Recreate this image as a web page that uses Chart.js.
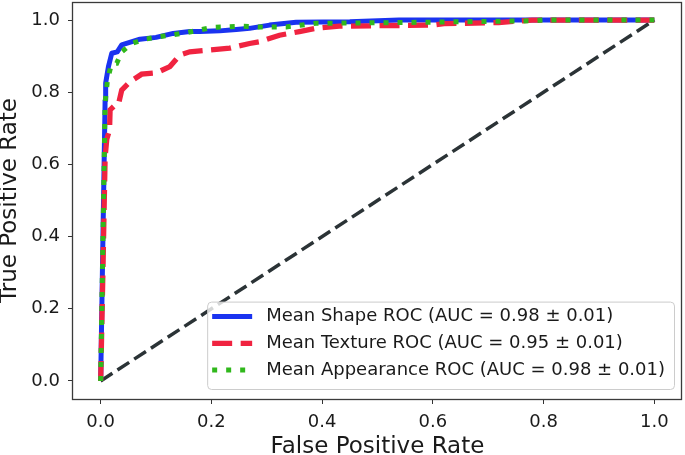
<!DOCTYPE html>
<html>
<head>
<meta charset="utf-8">
<script src="https://cdn.jsdelivr.net/npm/chart.js@4"></script>
<style>
    body { margin: 0; background: #fff; }
    #wrap { width: 685px; height: 455px; }
</style>
</head>
<body>
<div id="wrap"><canvas id="roc" width="685" height="455"></canvas></div>
<script>
/* ==================
    DATOS
================== */

const xTicks = [0.0, 0.2, 0.4, 0.6, 0.8, 1.0];
const yTicks = [0.0, 0.2, 0.4, 0.6, 0.8, 1.0];

const shapeFpr = [0, 0.008, 0.009, 0.014, 0.02, 0.03, 0.038, 0.071, 0.1, 0.131, 0.161, 0.179, 0.215, 0.245, 0.269, 0.305, 0.353, 0.45, 0.539, 1.0];
const shapeTpr = [0, 0.778, 0.825, 0.871, 0.908, 0.912, 0.931, 0.947, 0.952, 0.963, 0.968, 0.968, 0.970, 0.974, 0.977, 0.986, 0.994, 0.995, 1.0, 1.0];

const textureFpr = [0, 0.004, 0.008, 0.011, 0.016, 0.017, 0.026, 0.032, 0.038, 0.053, 0.074, 0.101, 0.125, 0.143, 0.161, 0.233, 0.269, 0.287, 0.323, 0.359, 0.389, 0.431, 0.599, 0.62, 0.719, 0.779, 1.0];
const textureTpr = [0, 0.30, 0.62, 0.67, 0.695, 0.751, 0.764, 0.766, 0.806, 0.829, 0.850, 0.854, 0.871, 0.903, 0.912, 0.922, 0.935, 0.940, 0.958, 0.968, 0.977, 0.983, 0.986, 0.990, 0.993, 1.0, 1.0];

const appearanceFpr = [0, 0.008, 0.012, 0.018, 0.022, 0.029, 0.038, 0.056, 0.08, 0.107, 0.155, 0.203, 0.256, 0.284, 0.335, 0.389, 0.539, 0.779, 0.8, 1.0];
const appearanceTpr = [0, 0.77, 0.83, 0.87, 0.88, 0.88, 0.912, 0.935, 0.947, 0.954, 0.965, 0.98, 0.983, 0.981, 0.981, 0.991, 0.993, 0.998, 1.0, 1.0];

const chanceFpr = [0, 1];
const chanceTpr = [0, 1];

const labels = [
    'Mean Shape ROC (AUC = 0.98 ± 0.01)',
    'Mean Texture ROC (AUC = 0.95 ± 0.01)',
    'Mean Appearance ROC (AUC = 0.98 ± 0.01)'
];

const pts = (xs, ys) => xs.map((x, i) => ({ x: x, y: ys[i] }));

/* ==================
    PLUGINS
================== */

// marco completo alrededor del area (como matplotlib)
const frame = {
    id: 'frame',
    afterDatasetsDraw(chart) {
        const { ctx, chartArea: a } = chart;
        ctx.save();
        ctx.strokeStyle = '#3a3a3a';
        ctx.lineWidth = 1.3;
        ctx.strokeRect(a.left - 0.5, a.top + 0.5, a.right - a.left, a.bottom - a.top);
        ctx.restore();
    }
};

// leyenda dentro del grafico, abajo a la derecha
const legendBox = {
    id: 'legendBox',
    afterDraw(chart) {
        const { ctx, chartArea: a } = chart;
        const items = chart.data.datasets.filter(d => d.label);
        ctx.save();
        ctx.font = '18px "DejaVu Sans"';
        const textW = Math.max(...items.map(d => ctx.measureText(d.label).width));
        const rowH = 26.7;
        const w = 5 + 40 + 14 + textW + 9;
        const h = 15 + rowH * (items.length - 1) + 19;
        const x = a.right - 8 - w;
        const y = a.bottom - 10 - h;

        ctx.beginPath();
        ctx.roundRect(x + 0.5, y + 0.5, w, h, 4);
        ctx.fillStyle = 'rgba(255,255,255,0.8)';
        ctx.fill();
        ctx.strokeStyle = '#cccccc';
        ctx.lineWidth = 1;
        ctx.stroke();

        items.forEach((d, i) => {
            const cy = y + 15 + i * rowH;
            ctx.beginPath();
            ctx.setLineDash(d.borderDash || []);
            ctx.lineCap = 'butt';
            ctx.strokeStyle = d.borderColor;
            ctx.lineWidth = d.borderWidth;
            ctx.moveTo(x + 5, cy);
            ctx.lineTo(x + 45, cy);
            ctx.stroke();
            ctx.setLineDash([]);
            ctx.fillStyle = '#1a1a1a';
            ctx.textBaseline = 'middle';
            ctx.textAlign = 'left';
            ctx.fillText(d.label, x + 59, cy);
        });
        ctx.restore();
    }
};

/* ==================
    GRAFICA ROC
================== */

Chart.defaults.font.family = '"DejaVu Sans", sans-serif';
Chart.defaults.color = '#1a1a1a';

const ctx = document.getElementById('roc').getContext('2d');

new Chart(ctx, {
    type: 'line',
    data: {
        datasets: [{
            label: labels[0],
            data: pts(shapeFpr, shapeTpr),
            borderColor: '#1a33f0',
            borderWidth: 5,
            borderJoinStyle: 'round',
            order: 2
        }, {
            label: labels[1],
            data: pts(textureFpr, textureTpr),
            borderColor: '#f02340',
            borderWidth: 5.3,
            borderDash: [20, 8.5],
            borderCapStyle: 'butt',
            order: 1
        }, {
            label: labels[2],
            data: pts(appearanceFpr, appearanceTpr),
            borderColor: '#30b81c',
            borderWidth: 5,
            borderDash: [5, 9],
            borderCapStyle: 'butt',
            order: 0
        }, {
            label: '',
            data: pts(chanceFpr, chanceTpr),
            borderColor: '#2b3336',
            borderWidth: 3.5,
            borderDash: [14, 6],
            borderCapStyle: 'butt',
            order: 3
        }]
    },
    options: {
        responsive: false,
        animation: false,
        devicePixelRatio: 1,
        elements: {
            point: { radius: 0 },
            line: { tension: 0, fill: false }
        },
        layout: { padding: { top: 2, right: 3, left: 0, bottom: 0 } },
        plugins: {
            legend: { display: false },
            tooltip: { enabled: false }
        },
        scales: {
            x: {
                type: 'linear',
                min: -0.05,
                max: 1.05,
                afterBuildTicks: (axis) => { axis.ticks = xTicks.map(v => ({ value: v })); },
                afterFit: (axis) => {
                    axis.height = 56;
                    axis.paddingLeft = 0;
                    axis.paddingRight = 0;
                },
                border: { display: false },
                grid: { drawOnChartArea: false, drawTicks: true, tickLength: 5, color: '#333', lineWidth: 1 },
                ticks: {
                    font: { size: 18 },
                    padding: 8,
                    maxRotation: 0,
                    callback: (v) => Number(v).toFixed(1)
                },
                title: {
                    display: true,
                    text: 'False Positive Rate',
                    font: { size: 23, lineHeight: 0.7 },
                    padding: 0
                }
            },
            y: {
                type: 'linear',
                min: -0.05,
                max: 1.05,
                afterBuildTicks: (axis) => { axis.ticks = yTicks.map(v => ({ value: v })); },
                afterFit: (axis) => {
                    axis.width = 73;
                    axis.paddingTop = 0;
                    axis.paddingBottom = 0;
                },
                border: { display: false },
                grid: { drawOnChartArea: false, drawTicks: true, tickLength: 5, color: '#333', lineWidth: 1 },
                ticks: {
                    font: { size: 18 },
                    padding: 8,
                    callback: (v) => Number(v).toFixed(1)
                },
                title: {
                    display: true,
                    text: 'True Positive Rate',
                    font: { size: 23, lineHeight: 0.9 },
                    padding: 0
                }
            }
        }
    },
    plugins: [frame, legendBox]
});
</script>
</body>
</html>
